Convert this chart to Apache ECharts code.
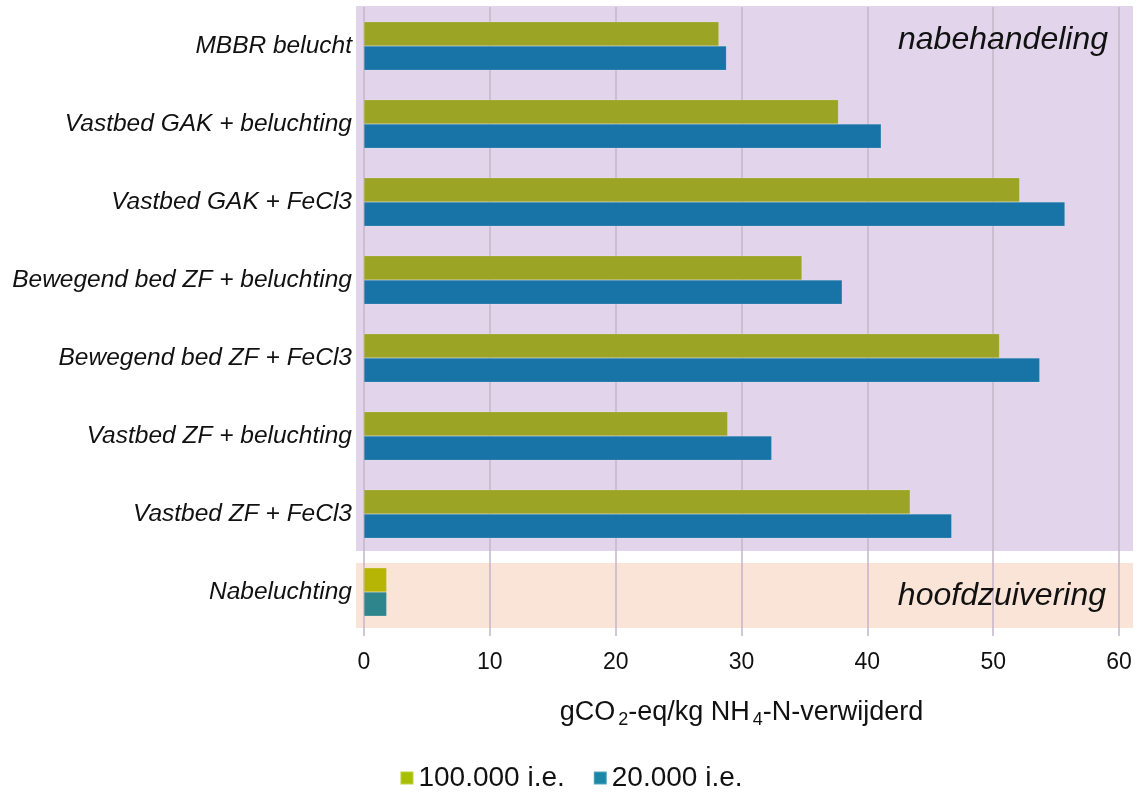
<!DOCTYPE html>
<html>
<head>
<meta charset="utf-8">
<script src="https://cdn.jsdelivr.net/npm/echarts@6/dist/echarts.min.js"></script>
<style>
html,body{margin:0;padding:0;background:#fff;}
#chart{width:1142px;height:794px;}
</style>
</head>
<body>
<div id="chart"></div>
<script>
const categories = [
  'MBBR belucht',
  'Vastbed GAK + beluchting',
  'Vastbed GAK + FeCl3',
  'Bewegend bed ZF + beluchting',
  'Bewegend bed ZF + FeCl3',
  'Vastbed ZF + beluchting',
  'Vastbed ZF + FeCl3',
  'Nabeluchting'
];
const seriesNames = ['100.000 i.e.', '20.000 i.e.'];
const values100k = [28.2, 37.7, 52.1, 34.8, 50.5, 28.9, 43.4, 1.8];
const values20k  = [28.8, 41.1, 55.7, 38.0, 53.7, 32.4, 46.7, 1.8];
const xTicks = [0, 10, 20, 30, 40, 50, 60];
const sectionLabels = ['nabehandeling', 'hoofdzuivering'];

const colGreen = '#9ba424', colBlue = '#1874a6';
const colGreenHead = '#b6b506', colBlueHead = '#2e858c';
const legendGreen = '#a8bf00', legendBlue = '#1a87a8';

function mk(vals, normal, head) {
  return vals.map((v, i) => ({
    value: v,
    itemStyle: { color: i === categories.length - 1 ? head : normal }
  }));
}

const chart = echarts.init(document.getElementById('chart'), null, {renderer: 'canvas'});
const font = 'Liberation Sans, Arial, sans-serif';
const grid = {left: 364, right: 23, top: 7, bottom: 163};

const option = {
  animation: false,
  textStyle: {fontFamily: font},
  grid: grid,
  legend: {
    bottom: -3,
    left: 'center',
    itemWidth: 13, itemHeight: 13, itemGap: 28,
    icon: 'rect',
    textStyle: {fontSize: 28, color: '#111', fontFamily: font},
    data: [
      {name: seriesNames[0], itemStyle: {color: legendGreen}},
      {name: seriesNames[1], itemStyle: {color: legendBlue}}
    ]
  },
  xAxis: {
    type: 'value',
    min: xTicks[0], max: xTicks[xTicks.length - 1], interval: 10,
    axisLine: {show: false},
    axisTick: {show: true, length: 5, lineStyle: {color: '#c4b6c8', width: 1.5}},
    splitLine: {show: true, lineStyle: {color: '#c4b6c8', width: 1.5}},
    axisLabel: {fontSize: 23, color: '#111', margin: 20, fontFamily: font},
    name: '{a|gCO}{s|2}{a|-eq/kg NH}{s|4}{a|-N-verwijderd}',
    nameLocation: 'middle',
    nameGap: 66,
    nameTextStyle: {
      rich: {
        a: {fontSize: 27, color: '#111', fontFamily: font},
        s: {fontSize: 18, color: '#111', fontFamily: font, verticalAlign: 'bottom', padding: [14, 0, 0, 3]}
      }
    }
  },
  yAxis: {
    type: 'category',
    inverse: true,
    data: categories,
    axisLine: {show: false},
    axisTick: {show: false},
    splitLine: {show: false},
    axisLabel: {fontSize: 24.5, fontStyle: 'italic', color: '#111', margin: 12, fontFamily: font}
  },
  series: [
    {
      name: seriesNames[0], type: 'bar', data: mk(values100k, colGreen, colGreenHead),
      barGap: '0%', barCategoryGap: '38%',
      itemStyle: {color: colGreen, borderColor: 'rgba(255,255,255,0.25)', borderWidth: 0.5}
    },
    {
      name: seriesNames[1], type: 'bar', data: mk(values20k, colBlue, colBlueHead),
      barGap: '0%', barCategoryGap: '38%',
      itemStyle: {color: colBlue, borderColor: 'rgba(255,255,255,0.25)', borderWidth: 0.5}
    }
  ]
};
chart.setOption(option);

// background sections, computed from the axes
const x0 = chart.convertToPixel({xAxisIndex: 0}, 0);
const x60 = chart.convertToPixel({xAxisIndex: 0}, 60);
const gTop = grid.top;
const gBottom = 794 - grid.bottom;
const band = (gBottom - gTop) / categories.length;
const left = x0 - 8, right = x60 + 14;
const splitY = gTop + band * (categories.length - 1);

chart.setOption({
  graphic: [
    {type: 'rect', z: -10, silent: true,
      shape: {x: left, y: gTop - 1, width: right - left, height: splitY - 2 - (gTop - 1)},
      style: {fill: '#e2d5eb'}},
    {type: 'rect', z: -10, silent: true,
      shape: {x: left, y: splitY + 10, width: right - left, height: gBottom - 3 - (splitY + 10)},
      style: {fill: '#fae4d7'}},
    {type: 'text', z: 10, silent: true,
      style: {text: sectionLabels[0], x: x60 - 11, y: gTop + 33, align: 'right', verticalAlign: 'middle',
        font: 'italic 32px ' + font, fill: '#111'}},
    {type: 'text', z: 10, silent: true,
      style: {text: sectionLabels[1], x: x60 - 13, y: gBottom - 35, align: 'right', verticalAlign: 'middle',
        font: 'italic 32px ' + font, fill: '#111'}}
  ]
});
</script>
</body>
</html>
